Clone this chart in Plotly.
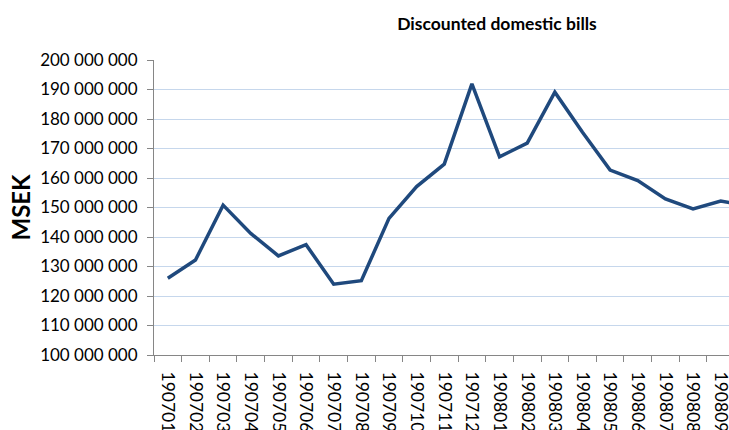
import plotly.graph_objects as go

categories = ["190701", "190702", "190703", "190704", "190705", "190706", "190707",
              "190708", "190709", "190710", "190711", "190712", "190801", "190802",
              "190803", "190804", "190805", "190806", "190807", "190808", "190809",
              "190810"]
values = [126.0, 132.2, 150.8, 141.2, 133.6, 137.4, 124.0, 125.2, 146.3, 157.1,
          164.7, 191.9, 167.2, 171.8, 189.1, 175.5, 162.7, 159.1, 152.9, 149.5,
          152.2, 150.5]
values = [v * 1_000_000 for v in values]
tick_vals = list(range(100_000_000, 200_000_001, 10_000_000))
tick_text = [f"{v:,}".replace(",", " ") for v in tick_vals]

fig = go.Figure()
fig.add_trace(go.Scatter(
    x=categories, y=values, mode="lines",
    line=dict(color="#1f497d", width=3.5),
    cliponaxis=True, hoverinfo="skip",
))

fig.update_layout(
    width=729, height=430,
    margin=dict(l=154, r=0, t=60, b=75, autoexpand=False),
    paper_bgcolor="white", plot_bgcolor="white",
    showlegend=False,
    font=dict(family="Lato", color="black"),
    title=dict(text="<b>Discounted domestic bills</b>", x=497 / 729, xanchor="center",
               y=1 - 24 / 430, yanchor="middle", font=dict(size=17.5, family="Lato")),
)
fig.update_xaxes(
    type="category", range=[-0.5, 20.3], automargin=False,
    showline=True, linecolor="#868686", linewidth=1,
    ticks="outside", tickson="boundaries", ticklen=6, tickcolor="#868686",
    tickangle=90, tickfont=dict(size=17.5, family="Lato"), ticklabelstandoff=12,
    showgrid=False,
)
fig.update_yaxes(
    range=[100_000_000, 200_000_000], automargin=False,
    tickvals=tick_vals, ticktext=tick_text,
    showline=True, linecolor="#868686", linewidth=1,
    ticks="outside", ticklen=6, tickcolor="#868686",
    tickfont=dict(size=17, family="Lato"), ticklabelstandoff=6,
    showgrid=True, gridcolor="#c6d7ec", gridwidth=1,
    zeroline=False,
    title=dict(text="<b>MSEK</b>", font=dict(size=24, family="Lato"), standoff=2),
)

fig.write_html(
    "out.html",
    config={"displayModeBar": False},
    post_script="document.body.style.margin='0';document.body.style.overflow='hidden';",
)
